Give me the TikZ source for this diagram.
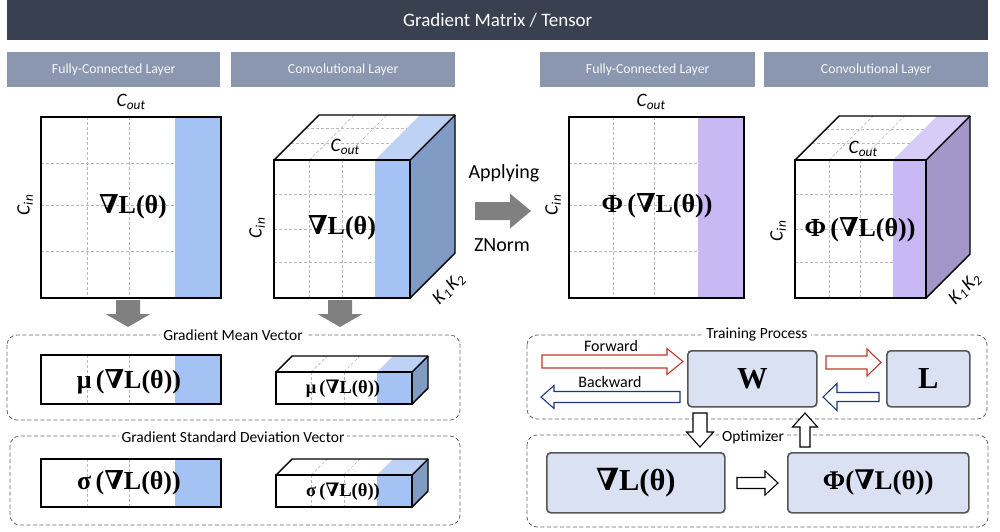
\documentclass[tikz,border=0pt]{standalone}
\usepackage{fontspec}
\setmainfont{Carlito}
\newfontfamily\tms{Liberation Serif}
\newfontfamily\dvs{DejaVu Serif}
\usetikzlibrary{calc}
\definecolor{hdr}{RGB}{57,64,80}
\definecolor{subh}{RGB}{138,151,174}
\definecolor{bstrip}{RGB}{164,194,244}
\definecolor{bside}{RGB}{128,155,196}
\definecolor{btop}{RGB}{190,210,246}
\definecolor{pstrip}{RGB}{200,184,244}
\definecolor{pside}{RGB}{163,150,200}
\definecolor{ptop}{RGB}{215,203,247}
\definecolor{boxfill}{RGB}{218,225,242}
\definecolor{boxdraw}{RGB}{85,85,85}
\definecolor{fred}{RGB}{192,57,43}
\definecolor{bblue}{RGB}{31,56,120}
\definecolor{arrgray}{RGB}{128,128,128}
\definecolor{gridc}{RGB}{185,185,185}
\newcommand\nb{{\dvs\bfseries ∇}}
\newcommand\gL{\nb L(θ)}
\newcommand\Cout{\textit{C}\textsubscript{\textit{out}}}
\newcommand\Cin{\textit{C}\textsubscript{\textit{in}}}
\newcommand\KK{\textit{K}\textsubscript{\textit{1}}\kern1.5pt\textit{K}\textsubscript{\textit{2}}}
\newif\ifcubegrid
% #1 xl, #2 xs, #3 xr, #4 yt, #5 yb, #6 d, #7 strip, #8 side, #9 top
\newcommand\mycube[9]{%
  \fill[white] (#1,#4) -- (#3,#4) -- ({#3+#6},{#4-#6}) -- ({#1+#6},{#4-#6}) -- cycle;
  \fill[#9] (#2,#4) -- (#3,#4) -- ({#3+#6},{#4-#6}) -- ({#2+#6},{#4-#6}) -- cycle;
  \fill[#8] (#3,#4) -- ({#3+#6},{#4-#6}) -- ({#3+#6},{#5-#6}) -- (#3,#5) -- cycle;
  \fill[#7] (#2,#4) rectangle (#3,#5);
  \foreach \f in {0.26,0.5}{
    \draw[gridl] ({#1+\f*(#3-#1)},#4) -- ({#1+\f*(#3-#1)},#5);
    \draw[gridl] ({#1+\f*(#3-#1)},#4) -- ({#1+\f*(#3-#1)+#6},{#4-#6});}
  \ifcubegrid
    \foreach \f in {0.25,0.5,0.74}
      \draw[gridl] (#1,{#4+\f*(#5-#4)}) -- (#2,{#4+\f*(#5-#4)});
    \foreach \f in {0.38,0.7}
      \draw[gridl] ({#1+\f*#6},{#4-\f*#6}) -- ({#2+\f*#6},{#4-\f*#6});
  \fi
  \draw[frame] (#1,#4) rectangle (#3,#5);
  \draw[frame,line join=round] (#1,#4) -- ({#1+#6},{#4-#6}) -- ({#3+#6},{#4-#6}) -- ({#3+#6},{#5-#6}) -- (#3,#5);
  \draw[frame] ({#3+#6},{#4-#6}) -- (#3,#4);}
% #1 xl #2 xs #3 xr #4 yt #5 yb #6 strip, #7 show horizontals (1/0)
\newcommand\fcmat[7]{%
  \fill[white] (#1,#4) rectangle (#3,#5);
  \fill[#6] (#2,#4) rectangle (#3,#5);
  \foreach \f in {0.255,0.49}
    \draw[gridl] ({#1+\f*(#3-#1)},#4) -- ({#1+\f*(#3-#1)},#5);
  \ifnum#7=1
  \foreach \f in {0.255,0.487,0.74}
    \draw[gridl] (#1,{#4+\f*(#5-#4)}) -- (#2,{#4+\f*(#5-#4)});
  \fi
  \draw[frame] (#1,#4) rectangle (#3,#5);}
% horizontal block arrow: [style] tail tip base yc s h
\newcommand\harrow[7][]{\draw[#1] (#2,{#5-#6}) -- (#4,{#5-#6}) -- (#4,{#5-#7}) -- (#3,#5) -- (#4,{#5+#7}) -- (#4,{#5+#6}) -- (#2,{#5+#6}) -- cycle;}
% vertical block arrow: [style] tail tip base xc s h
\newcommand\varrow[7][]{\draw[#1] ({#5-#6},#2) -- ({#5-#6},#4) -- ({#5-#7},#4) -- (#5,#3) -- ({#5+#7},#4) -- ({#5+#6},#4) -- ({#5+#6},#2) -- cycle;}
\begin{document}
\begin{tikzpicture}[x=1pt,y=-1pt,
  gridl/.style={gridc,line width=0.6pt,dash pattern=on 3pt off 2pt},
  frame/.style={black,line width=1.4pt},
  subhead/.style={fill=subh,text=white!92!subh,minimum height=35pt,inner sep=0,anchor=north west,font=\fontsize{13.8}{15}\selectfont},
  glabel/.style={fill=white,inner sep=3pt,font=\fontsize{15.5}{17}\selectfont},
  group/.style={draw=gray!80!black,dash pattern=on 4pt off 2.5pt,line width=0.8pt,rounded corners=10pt},
  mbox/.style={fill=boxfill,draw=boxdraw,line width=1.6pt,rounded corners=4pt,inner sep=0,font=\tms\bfseries\fontsize{30.5}{34}\selectfont},
  math/.style={inner sep=0,font=\tms\bfseries\fontsize{26}{30}\selectfont},
  dimlab/.style={inner sep=0,font=\fontsize{19}{21}\selectfont},
  ]
\useasboundingbox (0,0) rectangle (1000,531);
% header
\node[fill=hdr,text=white,minimum width=981pt,minimum height=40pt,inner sep=0,anchor=north west,font=\fontsize{19}{21}\selectfont] (title) at (7,0) {Gradient Matrix / Tensor};
\node[subhead,minimum width=213pt] (h1) at (7,52) {Fully-Connected Layer};
\node[subhead,minimum width=224pt] (h2) at (231,52) {Convolutional Layer};
\node[subhead,minimum width=215pt] (h3) at (540,52) {Fully-Connected Layer};
\node[subhead,minimum width=224pt] (h4) at (764,52) {Convolutional Layer};

% left FC matrix
\fcmat{41}{175}{221}{117}{298}{bstrip}{1}
\node[math] (gfc) at (133,207) {\gL};
\node[dimlab] (co1) at (131,102) {\Cout};
\node[dimlab,rotate=90] (ci1) at (25,205) {\Cin};

% left cube
\cubegridtrue
\mycube{274}{375}{410}{160}{298}{45}{bstrip}{bside}{btop}
\node[math] (gcv) at (342,228) {\gL};
\node[dimlab] (co2) at (345,147) {\Cout};
\node[dimlab,rotate=90] (ci2) at (257,228) {\Cin};
\node[dimlab,rotate=45] (kk1) at (449,289) {\KK};

% applying arrow
\harrow[fill=arrgray,draw=none]{475}{531}{510}{211}{9}{17.5}
\node[inner sep=0,font=\fontsize{20}{22}\selectfont] (app) at (504,173) {Applying};
\node[inner sep=0,font=\fontsize{20}{22}\selectfont] (zn) at (502,245) {ZNorm};

% right FC matrix
\fcmat{569}{698}{744}{117}{298}{pstrip}{1}
\node[math] (pfc) at (657,206) {Φ\,(\gL)};
\node[dimlab] (co3) at (651,102) {\Cout};
\node[dimlab,rotate=90] (ci3) at (553,205) {\Cin};

% right cube
\mycube{795}{893}{926}{160}{298}{44}{pstrip}{pside}{ptop}
\node[math] (pcv) at (860,230) {Φ\,(\gL)};
\node[dimlab] (co4) at (863,149) {\Cout};
\node[dimlab,rotate=90] (ci4) at (778,231) {\Cin};
\node[dimlab,rotate=45] (kk2) at (965,289) {\KK};

% gray down arrows
\varrow[fill=arrgray,draw=none]{300}{327}{314}{128}{12}{22.5}
\varrow[fill=arrgray,draw=none]{300}{327}{314}{340}{12}{22.5}

% mean group
\draw[group] (7,335) rectangle (460,420);
\node[glabel] (gm) at (233,335) {Gradient Mean Vector};
\fcmat{41}{175}{221}{355}{404}{bstrip}{0}
\node[math] (mu1) at (129,382) {μ\,(\gL)};
\cubegridfalse
\mycube{276}{377}{412}{372}{404}{16}{bstrip}{bside}{btop}
\node[math,font=\tms\bfseries\fontsize{18.5}{21}\selectfont] (mu2) at (343,389) {μ\,(\gL)};

% std group
\draw[group] (10,436) rectangle (460,525);
\node[glabel] (gs) at (233,437) {Gradient Standard Deviation Vector};
\fcmat{41}{175}{221}{459}{507}{bstrip}{0}
\node[math] (sg1) at (129,483) {σ\,(\gL)};
\mycube{276}{377}{412}{475}{507}{16}{bstrip}{bside}{btop}
\node[math,font=\tms\bfseries\fontsize{18.5}{21}\selectfont] (sg2) at (343,492) {σ\,(\gL)};

% training process
\draw[group] (527,335) rectangle (987,419);
\node[glabel] (tp) at (757,334) {Training Process};
\node[mbox,minimum width=129pt,minimum height=56pt,anchor=north west] (W) at (687,350) {W};
\node[mbox,minimum width=83pt,minimum height=56pt,anchor=north west] (L) at (886,350) {L};
\harrow[draw=fred,fill=white,line width=1.1pt]{542}{683}{667}{361.5}{6.5}{13}
\harrow[draw=bblue,fill=white,line width=1.1pt]{680}{541}{554}{397}{5.5}{11.5}
\harrow[draw=fred,fill=white,line width=1.1pt]{826}{881}{867}{362.5}{6.5}{13.5}
\harrow[draw=bblue,fill=white,line width=1.1pt]{879}{823}{837}{397}{4.5}{13.5}
\node[inner sep=0,font=\fontsize{16}{18}\selectfont] (fw) at (611,346) {Forward};
\node[inner sep=0,font=\fontsize{16}{18}\selectfont] (bw) at (610,382) {Backward};

% optimizer
\draw[group] (527,435) rectangle (988,527);
\node[glabel] (opt) at (753,437) {Optimizer};
\node[mbox,minimum width=178pt,minimum height=60pt,anchor=north west] (G) at (546,452) {\gL};
\node[mbox,minimum width=181pt,minimum height=60pt,anchor=north west,font=\tms\bfseries\fontsize{27}{30}\selectfont] (P) at (787,452) {Φ(\gL)};
\varrow[draw=black,fill=white,line width=1.1pt]{413}{447}{432}{700}{7}{13.5}
\varrow[draw=black,fill=white,line width=1.1pt]{447}{413}{427}{805}{5}{12.5}
\harrow[draw=black,fill=white,line width=1.1pt]{737}{778}{765}{483}{5.5}{12}
\end{tikzpicture}
\end{document}
